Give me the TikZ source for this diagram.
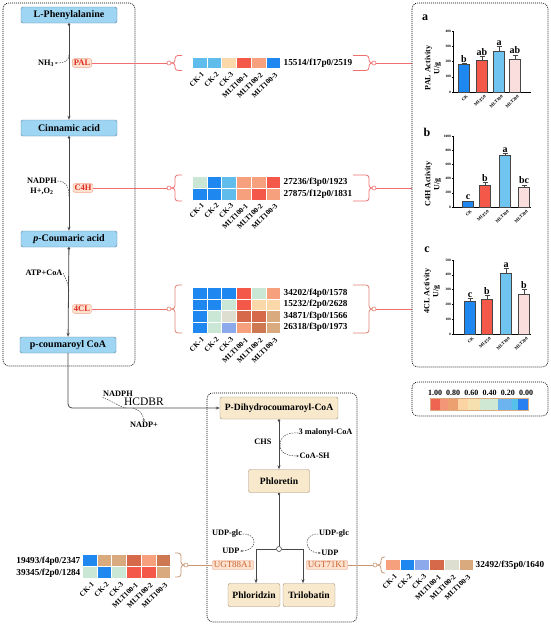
\documentclass[tikz,border=0pt]{standalone}
\usepackage{fontspec}
\setmainfont{Liberation Serif}
\usetikzlibrary{arrows.meta}

\definecolor{compfill}{RGB}{158,213,243}
\definecolor{compedge}{RGB}{90,130,160}
\definecolor{prodfill}{RGB}{248,233,205}
\definecolor{prodedge}{RGB}{160,140,115}
\definecolor{enztext}{RGB}{225,40,30}
\definecolor{enzfill}{RGB}{253,226,208}
\definecolor{enzedge}{RGB}{242,165,140}
\definecolor{ugttext}{RGB}{200,100,50}
\definecolor{linkred}{RGB}{240,110,110}
\definecolor{linktan}{RGB}{200,150,115}
\definecolor{pathgray}{RGB}{70,70,70}
% heatmap colours
\definecolor{hblue}{RGB}{30,136,240}
\definecolor{hlblue}{RGB}{95,188,235}
\definecolor{hpale}{RGB}{251,216,170}
\definecolor{hred}{RGB}{243,88,72}
\definecolor{hsalmon}{RGB}{246,160,125}
\definecolor{hgreen}{RGB}{202,230,212}
\definecolor{hgray}{RGB}{222,222,208}
\definecolor{hperi}{RGB}{140,170,235}
\definecolor{hdred}{RGB}{215,105,75}
\definecolor{hbrown}{RGB}{205,120,80}
\definecolor{htan}{RGB}{216,170,125}
% key colours
\definecolor{kc1}{RGB}{238,100,80}
\definecolor{kc2}{RGB}{243,150,120}
\definecolor{kc3}{RGB}{236,160,112}
\definecolor{kc4}{RGB}{252,212,164}
\definecolor{kc5}{RGB}{247,224,176}
\definecolor{kc6}{RGB}{207,232,212}
\definecolor{kc7}{RGB}{108,180,239}
\definecolor{kc8}{RGB}{85,192,234}
\definecolor{kc9}{RGB}{42,128,240}
% bar colours
\definecolor{barck}{RGB}{30,136,240}
\definecolor{barfifty}{RGB}{243,88,72}
\definecolor{barhund}{RGB}{112,196,240}
\definecolor{bartwo}{RGB}{250,222,222}

% curly brackets with a ring at the tip: x, y, half height, arm, colour
\newcommand{\brakL}[5]{%
  \draw[#5, line width=0.8pt, rounded corners=3pt] ({#1+6+#4},{#2-#3}) -- ({#1+6},{#2-#3}) -- ({#1+6},#2) -- (#1,#2);
  \draw[#5, line width=0.8pt, rounded corners=3pt] ({#1+6+#4},{#2+#3}) -- ({#1+6},{#2+#3}) -- ({#1+6},#2) -- (#1,#2);
  \draw[#5, fill=white, line width=0.6pt] (#1,#2) circle (2pt);}
\newcommand{\brakR}[5]{%
  \draw[#5, line width=0.8pt, rounded corners=3pt] ({#1-5-#4},{#2-#3}) -- ({#1-5},{#2-#3}) -- ({#1-5},#2) -- (#1,#2);
  \draw[#5, line width=0.8pt, rounded corners=3pt] ({#1-5-#4},{#2+#3}) -- ({#1-5},{#2+#3}) -- ({#1-5},#2) -- (#1,#2);
  \draw[#5, fill=white, line width=0.6pt] (#1,#2) circle (2pt);}

% one row of heatmap cells: x, y, colours
\newcommand{\heatrow}[3]{%
  \foreach \hc [count=\i] in {#3}
    \fill[\hc] ({#1+(\i-1)*14.7},#2) rectangle ++(13.7,10.5);}

% sample names under a heatmap: x, y, name
\newcommand{\collabels}[3]{%
  \foreach \coltxt [count=\i] in {CK-1,CK-2,CK-3,MLT100-1,MLT100-2,MLT100-3}
    \node[collab] (#3-\i) at ({#1+(\i-1)*14.7+8},#2) {\coltxt};}

% bar chart: zero line, px per unit, ticks, axis top, name, bars
\newcommand{\actchart}[6]{%
  \draw[axisline] (453,#4) -- (453,#1) -- (531,#1);
  \foreach \tk in {#3}
    \draw[axisline] (453,{#1-\tk*#2}) -- ++(-1.5,0) node[ticklab] (#5-t\tk) {\tk};
  \foreach \xc/\val/\er/\col/\sig/\nm [count=\i] in {#6} {
    \pgfmathsetmacro{\bartop}{#1-\val*#2}
    \pgfmathsetmacro{\errtop}{#1-(\val+\er)*#2}
    \draw[barline, fill=\col] ({\xc-5.5},#1) rectangle ({\xc+5.5},\bartop);
    \draw[barline] (\xc,\bartop) -- (\xc,\errtop) ({\xc-2.5},\errtop) -- ({\xc+2.5},\errtop);
    \node[siglab] (#5-s\i) at (\xc,\errtop) {\sig};
    \node[xlab] (#5-x\i) at ({\xc+2},{#1+2}) {\nm};
  }}

\begin{document}
\begin{tikzpicture}[x=1pt, y=-1pt,
  comp/.style={draw=compedge, fill=compfill, rounded corners=1.5pt, minimum width=96pt, minimum height=16pt, inner sep=0pt, font=\bfseries\fontsize{10}{10}\selectfont},
  prod/.style={draw=prodedge, fill=prodfill, rounded corners=2pt, minimum height=22pt, inner sep=0pt, font=\bfseries\fontsize{9.6}{9.6}\selectfont},
  enz/.style={draw=enzedge, fill=enzfill, text=enztext, rounded corners=2pt, inner sep=1.5pt, font=\bfseries\fontsize{8.5}{8.5}\selectfont},
  ugt/.style={draw=enzedge, fill=enzfill, text=ugttext, rounded corners=2pt, inner sep=1.5pt, font=\fontsize{9}{9}\selectfont},
  chem/.style={inner sep=0.5pt, font=\bfseries\fontsize{8.3}{8.3}\selectfont},
  geneid/.style={anchor=west, inner sep=0.5pt, font=\bfseries\fontsize{9.2}{9.2}\selectfont},
  collab/.style={anchor=north east, rotate=45, inner sep=0.5pt, font=\bfseries\fontsize{7.3}{7.3}\selectfont},
  panel/.style={line width=0.6pt, dash pattern=on 1pt off 1pt, rounded corners=6pt},
  flow/.style={pathgray, line width=0.8pt, {Circle[length=2.6pt]}-{Stealth[length=4pt,width=3pt]}},
  feed/.style={pathgray, line width=0.8pt, -{Stealth[length=4pt,width=3pt]}},
  stem/.style={pathgray, line width=0.8pt, {Circle[length=2.6pt]}-},
  aux/.style={pathgray, line width=0.5pt, dash pattern=on 1.5pt off 1pt},
  auxtip/.style={aux, -{Stealth[length=2.5pt,width=2pt]}},
  link/.style={linkred, line width=0.8pt},
  ring/.style={circle, draw=pathgray, fill=white, line width=0.6pt, inner sep=0pt, minimum size=5pt},
  axisline/.style={line width=0.4pt},
  barline/.style={line width=0.5pt, draw=pathgray},
  ticklab/.style={anchor=east, inner sep=0.5pt, font=\bfseries\fontsize{3.5}{3.5}\selectfont},
  siglab/.style={anchor=south, inner sep=0.8pt, font=\bfseries\fontsize{10}{10}\selectfont},
  xlab/.style={anchor=north east, rotate=45, inner sep=0.3pt, font=\bfseries\fontsize{4.5}{4.5}\selectfont},
  ylab/.style={rotate=90, align=center, inner sep=0pt, font=\bfseries\fontsize{8}{9}\selectfont},
  plabel/.style={inner sep=0pt, font=\bfseries\fontsize{12}{12}\selectfont},
  keylab/.style={inner sep=0pt, font=\bfseries\fontsize{8}{8}\selectfont}]
  \useasboundingbox (0,0) rectangle (550,624);

  % left panel: phenylpropanoid steps
  \draw[panel] (3,3) rectangle (135,366);
  \node[comp] (lphe) at (69,15) {L-Phenylalanine};
  \node[comp] (cinn) at (69,128) {Cinnamic acid};
  \node[comp] (pcou) at (69,239) {\textit{p}-Coumaric acid};
  \node[comp] (pcoa) at (68,345) {p-coumaroyl CoA};
  \draw[flow] (lphe) -- (cinn);
  \draw[flow] (cinn) -- (pcou);
  \draw[flow] (pcou) -- (pcoa);

  \node[enz] (pal) at (82,63) {PAL};
  \node[enz] (c4h) at (83,188) {C4H};
  \node[enz] (fcl) at (82,309) {4CL};

  \node[chem] (nh3) at (46,63) {NH\textsubscript{3}};
  \coordinate (nh3out) at (69,55);
  \draw[auxtip] (nh3out) .. controls (69,61) and (65,63) .. (nh3.east);
  \node[chem] (nadph) at (42,181) {NADPH};
  \node[chem] (hoo) at (42,191) {H+,O\textsubscript{2}};
  \coordinate (c4hin) at (69,197);
  \draw[aux] (nadph.east) .. controls (66,181) and (69,186) .. (c4hin);
  \node[chem] (atp) at (44,273) {ATP+CoA};
  \coordinate (fclin) at (69,292);
  \draw[aux] (atp.east) .. controls (65,278) and (69,284) .. (fclin);

  % PAL heatmap
  \coordinate (palL) at (169,63);
  \coordinate (palR) at (374,63);
  \coordinate (palA) at (412,63);
  \draw[link] (pal) -- (palL);
  \draw[link] (palR) -- (palA);
  \brakL{169}{63}{7.5}{7}{linkred}
  \brakR{374}{63}{7.5}{16}{linkred}
  \heatrow{193}{57.5}{hlblue,hlblue,hpale,hred,hsalmon,hblue}
  \node[geneid] (palid) at (283,63) {15514/f17p0/2519};
  \collabels{193}{71}{palcol}

  % C4H heatmap
  \coordinate (c4hL) at (169,188);
  \coordinate (c4hR) at (374,188);
  \coordinate (c4hA) at (412,188);
  \draw[link] (c4h) -- (c4hL);
  \draw[link] (c4hR) -- (c4hA);
  \brakL{169}{188}{13}{7}{linkred}
  \brakR{374}{188}{13}{16}{linkred}
  \heatrow{193}{177}{hgreen,hblue,hlblue,hsalmon,hsalmon,hred}
  \heatrow{193}{189}{hblue,hblue,hlblue,hsalmon,hred,hsalmon}
  \node[geneid] (c4hida) at (283,182.5) {27236/f3p0/1923};
  \node[geneid] (c4hidb) at (283,194.5) {27875/f12p0/1831};
  \collabels{193}{202}{c4hcol}

  % 4CL heatmap
  \coordinate (fclL) at (169,309);
  \coordinate (fclR) at (374,309);
  \coordinate (fclA) at (412,309);
  \draw[link] (fcl) -- (fclL);
  \draw[link] (fclR) -- (fclA);
  \brakL{169}{309}{24}{7}{linkred!50!linktan}
  \brakR{374}{309}{24}{16}{linkred!50!linktan}
  \heatrow{193}{288}{hblue,hblue,hblue,hred,hgreen,hsalmon}
  \heatrow{193}{299.5}{hblue,hblue,hgreen,hred,hpale,hpale}
  \heatrow{193}{311}{hblue,hgreen,hgray,hdred,hdred,htan}
  \heatrow{193}{322.5}{hblue,hgreen,hperi,hsalmon,hbrown,htan}
  \node[geneid] (fclida) at (283,293) {34202/f4p0/1578};
  \node[geneid] (fclidb) at (283,304.5) {15232/f2p0/2628};
  \node[geneid] (fclidc) at (283,316) {34871/f3p0/1566};
  \node[geneid] (fclidd) at (283,327.5) {26318/f3p0/1973};
  \collabels{193}{336}{fclcol}

  % right panel: enzyme activities
  \draw[panel] (412,3) rectangle (548,367);
  \node[plabel] (pa) at (425,18) {a};
  \node[ylab] (ya) at (433,68) {PAL Activity\\U/g};
  \actchart{92}{0.1525}{0,100,200,300,400}{31}{a}{464/180/6/barck/b/CK, 482/205/30/barfifty/ab/MLT50, 499/265/35/barhund/a/MLT100, 515/218/25/bartwo/ab/MLT200}
  \node[plabel] (pb) at (427,132) {b};
  \node[ylab] (yb) at (433,184) {C4H Activity\\U/g};
  \actchart{207}{0.071}{0,200,400,600,800,1000}{136}{b}{468/75/10/barck/c/CK, 485/310/40/barfifty/b/MLT50, 505/730/25/barhund/a/MLT100, 524/280/30/bartwo/bc/MLT200}
  \node[plabel] (pc) at (427,250) {c};
  \node[ylab] (yc) at (432,291) {4CL Activity\\U/g};
  \actchart{334}{0.148}{0,100,200,300,400,500}{260}{c}{470/220/20/barck/c/CK, 487/235/25/barfifty/b/MLT50, 506/410/35/barhund/a/MLT100, 524/270/30/bartwo/b/MLT200}

  % colour key
  \draw[panel] (412,382) rectangle (548,416);
  \foreach \kv [count=\i] in {1.00,0.80,0.60,0.40,0.20,0.00}
    \node[keylab] (key\i) at ({435+(\i-1)*18.2},393) {\kv};
  \foreach \a/\b/\hc in {430/440/kc1, 440/448/kc2, 448/458/kc3, 458/468/kc4, 468/480/kc5, 480/498/kc6, 498/512/kc7, 512/518/kc8, 518/528/kc9}
    \fill[\hc] (\a,398) rectangle (\b,410);
  \draw[htan, line width=0.6pt] (430,398) rectangle (528,410);

  % towards phloretin
  \node[prod, minimum width=118pt] (pdh) at (279,408) {P-Dihydrocoumaroyl-CoA};
  \draw[feed, rounded corners=4pt] (pcoa) |- (pdh);
  \node[chem] (nadph2) at (118,394) {NADPH};
  \node[inner sep=0pt, font=\fontsize{11.5}{11.5}\selectfont] (hcdbr) at (144,402) {HCDBR};
  \node[chem] (nadp) at (144,425) {NADP+};
  \coordinate (hin) at (126,408);
  \coordinate (hout) at (133,408);
  \draw[aux] (nadph2.south west) .. controls (116,403) and (120,407) .. (hin);
  \draw[auxtip] (hout) .. controls (139,410) and (143,413) .. (nadp.north);

  \draw[panel] (207,393) rectangle (357,622);
  \node[prod, minimum width=61pt, minimum height=23pt] (phlo) at (279,481) {Phloretin};
  \draw[flow] (pdh) -- (phlo);
  \node[chem] (chs) at (263,442) {CHS};
  \node[chem, anchor=west] (mal) at (298,433) {3 malonyl-CoA};
  \node[chem, anchor=west] (coash) at (299,456) {CoA-SH};
  \coordinate (chsmid) at (280,445);
  \draw[aux] (mal.west) .. controls (285,432) and (280,438) .. (chsmid);
  \draw[auxtip] (chsmid) .. controls (280,453) and (287,456) .. (coash.west);

  % glycosylation branch
  \node[prod, minimum width=52pt, minimum height=23pt] (phld) at (254,595) {Phloridzin};
  \node[prod, minimum width=52pt, minimum height=23pt] (trilo) at (309,595) {Trilobatin};
  \node[ring] (br) at (279,549) {};
  \draw[stem] (phlo) -- (br);
  \draw[feed] (br) -| ([xshift=2pt]phld.north);
  \draw[feed] (br) -| ([xshift=-6pt]trilo.north);
  \node[chem] (udpga) at (227,534) {UDP-glc};
  \node[chem] (udpa) at (231,551) {UDP};
  \draw[auxtip] (udpga.east) .. controls (258,533) and (258,551) .. (udpa.east);
  \node[chem] (udpgb) at (334,534) {UDP-glc};
  \node[chem] (udpb) at (330,553) {UDP};
  \draw[auxtip] (udpgb.west) .. controls (303,533) and (303,553) .. (udpb.west);
  \node[ugt] (ugtaa) at (233,565) {UGT88A1};
  \node[ugt] (ugtkk) at (327,565) {UGT71K1};

  % UGT88A1 heatmap
  \coordinate (ugtaaR) at (186,565);
  \draw[link, linktan] (ugtaaR) -- (ugtaa);
  \brakR{186}{565}{12}{6}{linktan}
  \heatrow{83}{555}{hblue,htan,htan,hdred,hsalmon,hbrown}
  \heatrow{83}{567}{hgreen,hblue,hgreen,hred,hred,htan}
  \node[geneid, anchor=east] (ugtaaida) at (81,561) {19493/f4p0/2347};
  \node[geneid, anchor=east] (ugtaaidb) at (81,573) {39345/f2p0/1284};
  \collabels{83}{581}{ugtaacol}

  % UGT71K1 heatmap
  \coordinate (ugtkkL) at (375,565);
  \draw[link, linktan] (ugtkk) -- (ugtkkL);
  \brakL{375}{565}{8}{4}{linktan}
  \heatrow{386}{559.5}{hsalmon,hblue,hperi,hdred,hgray,htan}
  \node[geneid] (ugtkkid) at (475,565) {32492/f35p0/1640};
  \collabels{386}{573}{ugtkkcol}
\end{tikzpicture}
\end{document}
